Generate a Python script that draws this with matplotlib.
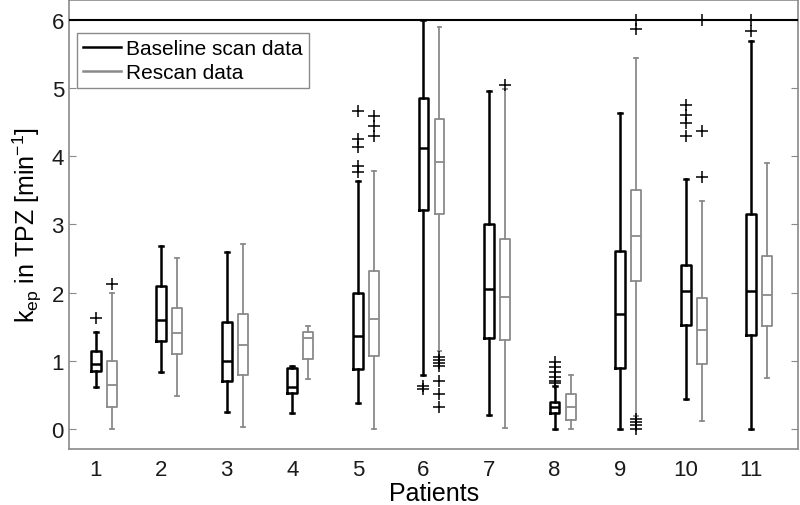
import matplotlib
matplotlib.use("Agg")
import matplotlib.pyplot as plt
from matplotlib.lines import Line2D

plt.rcParams['font.family'] = ['Liberation Sans', 'DejaVu Sans']
plt.rcParams['mathtext.fontset'] = 'custom'
plt.rcParams['mathtext.rm'] = 'Liberation Sans'
plt.rcParams['mathtext.default'] = 'regular'

patients = [1, 2, 3, 4, 5, 6, 7, 8, 9, 10, 11]

# baseline scan (black)
base_whislo = [0.61, 0.83, 0.25, 0.24, 0.38, 0.79, 0.20, 0.00, 0.00, 0.44, 0.00]
base_q1     = [0.85, 1.29, 0.71, 0.53, 0.88, 3.21, 1.34, 0.23, 0.89, 1.52, 1.38]
base_med    = [0.95, 1.60, 1.00, 0.62, 1.37, 4.12, 2.05, 0.33, 1.69, 2.02, 2.02]
base_q3     = [1.15, 2.09, 1.57, 0.89, 2.00, 4.86, 3.01, 0.39, 2.61, 2.41, 3.15]
base_whishi = [1.43, 2.68, 2.60, 0.93, 3.63, 6.00, 4.96, 0.63, 4.63, 3.67, 5.69]
base_fliers = [[1.63], [], [], [], [4.66, 4.25, 4.13, 3.85, 3.77], [0.63, 0.59], [],
               [0.98, 0.91, 0.84, 0.77, 0.70, 0.67], [], [4.75, 4.61, 4.48, 4.29],
               [6.0, 5.83]]

# rescan (gray)
re_whislo = [0.00, 0.48, 0.03, 0.73, 0.00, 1.14, 0.01, 0.00, 0.19, 0.12, 0.75]
re_q1     = [0.32, 1.10, 0.79, 1.03, 1.07, 3.15, 1.31, 0.14, 2.17, 0.96, 1.51]
re_med    = [0.64, 1.41, 1.23, 1.33, 1.61, 3.91, 1.93, 0.33, 2.83, 1.45, 1.97]
re_q3     = [1.00, 1.78, 1.69, 1.42, 2.31, 4.55, 2.78, 0.51, 3.51, 1.92, 2.54]
re_whishi = [2.00, 2.51, 2.72, 1.51, 3.78, 5.89, 4.99, 0.79, 5.44, 3.34, 3.90]
re_fliers = [[2.13], [], [], [], [4.59, 4.45, 4.29],
             [1.06, 1.01, 0.97, 0.93, 0.71, 0.52, 0.33], [5.04], [],
             [6.0, 5.87, 0.15, 0.10, 0.06, 0.0], [6.0, 4.37, 3.69], []]

limit_line = 6.0
gray = '#8a8a8a'


def make_stats(lo, q1, med, q3, hi, fl):
    return [dict(whislo=a, q1=b, med=c, q3=d, whishi=e, fliers=f)
            for a, b, c, d, e, f in zip(lo, q1, med, q3, hi, fl)]


fig = plt.figure(figsize=(8, 5.06), dpi=100)
ax = fig.add_axes([0.086, 0.111, 0.912, 0.887])

flier = dict(marker='+', markeredgecolor='black', markersize=8, markeredgewidth=1.1)

ax.bxp(make_stats(base_whislo, base_q1, base_med, base_q3, base_whishi, base_fliers),
       positions=patients, widths=0.15, capwidths=0.06, manage_ticks=False,
       boxprops=dict(color='black', lw=1.8),
       whiskerprops=dict(color='black', lw=1.8, linestyle='-'),
       capprops=dict(color='black', lw=1.8),
       medianprops=dict(color='black', lw=1.8),
       flierprops=flier)

ax.bxp(make_stats(re_whislo, re_q1, re_med, re_q3, re_whishi, re_fliers),
       positions=[p + 0.245 for p in patients], widths=0.15, capwidths=0.06,
       manage_ticks=False,
       boxprops=dict(color=gray, lw=1.3),
       whiskerprops=dict(color=gray, lw=1.3, linestyle='-'),
       capprops=dict(color=gray, lw=1.3),
       medianprops=dict(color=gray, lw=1.3),
       flierprops=flier)

ax.axhline(limit_line, color='black', lw=1.5, zorder=5)

ax.set_xlim(0.59, 11.72)
ax.set_ylim(-0.29, 6.29)
ax.set_xticks(patients)
ax.set_xticklabels([str(p) for p in patients])
ax.set_yticks([0, 1, 2, 3, 4, 5, 6])
ax.tick_params(axis='x', length=0, labelsize=16, pad=7, colors='#1a1a1a')
ax.tick_params(axis='y', direction='in', length=5, labelsize=16,
               right=True, labelcolor='#1a1a1a', color=gray)
for s in ax.spines.values():
    s.set_color(gray)
    s.set_linewidth(1.2)

ax.set_xlabel('Patients', fontsize=18, labelpad=1)
ax.set_ylabel(r'k$_{ep}$ in TPZ [min$^{-1}$]', fontsize=18, labelpad=5)

handles = [Line2D([], [], color='black', lw=1.8), Line2D([], [], color=gray, lw=1.8)]
leg = ax.legend(handles, ['Baseline scan data', 'Rescan data'], loc='upper left',
                bbox_to_anchor=(0.011, 0.927), borderaxespad=0, fontsize=15,
                fancybox=False, edgecolor=gray, framealpha=1, handlelength=1.8,
                handletextpad=0.25, labelspacing=0.25, borderpad=0.3)
leg.get_frame().set_linewidth(1.0)

fig.savefig('out.png', dpi=100)
